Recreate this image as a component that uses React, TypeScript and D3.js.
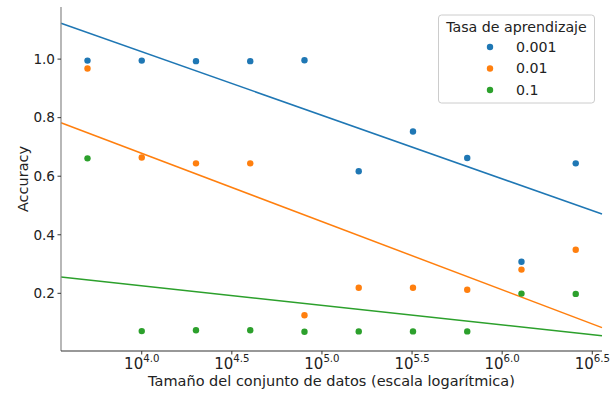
import React from 'react';
import { scaleLog, scaleLinear, scaleOrdinal, line } from 'd3';

// dataset sizes (5000 * 2^i)
const sizes = [5000, 10000, 20000, 40000, 80000, 160000, 320000, 640000, 1280000, 2560000];
const rates = ['0.001', '0.01', '0.1'];

const acc001 = [0.995, 0.995, 0.993, 0.993, 0.996, 0.617, 0.753, 0.662, 0.308, 0.644];
const acc01 = [0.968, 0.664, 0.644, 0.644, 0.125, 0.219, 0.219, 0.212, 0.281, 0.349];
const acc1 = [0.661, 0.071, 0.074, 0.074, 0.069, 0.070, 0.070, 0.070, 0.199, 0.198];

// fitted trend values at 10^4 and 10^6
const fitAt4 = [1.025, 0.678, 0.226];
const fitAt6 = [0.591, 0.212, 0.092];

const xTickExps = ['4.0', '4.5', '5.0', '5.5', '6.0', '6.5'];
const yTicks = [0.2, 0.4, 0.6, 0.8, 1.0];

const series = [acc001, acc01, acc1];
const colors = ['#1f77b4', '#ff7f0e', '#2ca02c'];

const W = 615;
const H = 394;
const left = 61, right = 602, top = 7, bottom = 351;

const App = () => {
    const x = scaleLog().domain([Math.pow(10, 3.552), Math.pow(10, 6.554)]).range([left, right]);
    const y = scaleLinear().domain([0.003, 1.178]).range([bottom, top]);
    const color = scaleOrdinal<string, string>().domain(rates).range(colors);
    const font = 'DejaVu Sans, sans-serif';

    const [lx0, lx1] = x.domain().map(v => Math.log10(v));
    const trend = (i: number) => {
        const slope = (fitAt6[i] - fitAt4[i]) / 2;
        const f = (lx: number) => fitAt4[i] + slope * (lx - 4);
        return line<number>()
            .x(lx => x(Math.pow(10, lx)))
            .y(lx => y(f(lx)))([lx0, lx1]);
    };

    return (
        <svg width={W} height={H} style={{ position: 'absolute', left: 0, top: 0 }} fontFamily={font}>
            <rect width={W} height={H} fill="#fff" />

            {/* fitted lines */}
            {rates.map((r, i) => (
                <path key={r} d={trend(i) || ''} fill="none" stroke={color(r)} strokeWidth={1.5} />
            ))}

            {/* points */}
            {series.map((vals, i) => vals.map((v, j) => (
                <circle key={`${i}-${j}`} cx={x(sizes[j])} cy={y(v)} r={3.2} fill={color(rates[i])} />
            )))}

            {/* axes */}
            <line x1={left} x2={left} y1={top} y2={bottom} stroke="#888" strokeWidth={1.2} />
            <line x1={left} x2={right} y1={bottom} y2={bottom} stroke="#333" strokeWidth={1.2} />

            {yTicks.map(t => (
                <g key={t} transform={`translate(0,${y(t)})`}>
                    <line x1={left - 3.5} x2={left} stroke="#333" />
                    <text x={left - 6} dy="0.35em" textAnchor="end" fontSize={13.6} fill="#222">{t.toFixed(1)}</text>
                </g>
            ))}

            {xTickExps.map(e => {
                const px = x(Math.pow(10, +e));
                return (
                    <g key={e} transform={`translate(${px},0)`}>
                        <line y1={bottom} y2={bottom + 3.5} stroke="#333" />
                        <text y={bottom + 17.5} textAnchor="middle" fontSize={15} fill="#222">
                            <tspan>10</tspan>
                            <tspan dy={-7} fontSize={10.2}>{e}</tspan>
                        </text>
                    </g>
                );
            })}

            <text x={(left + right) / 2} y={385.5} textAnchor="middle" fontSize={14.5} fill="#222">
                Tamaño del conjunto de datos (escala logarítmica)
            </text>
            <text transform={`translate(23,${(top + bottom) / 2}) rotate(-90)`} dy="0.35em" textAnchor="middle" fontSize={14.5} fill="#222">
                Accuracy
            </text>

            {/* legend */}
            <g>
                <rect x={438.5} y={15} width={156} height={88} rx={3} fill="#fff" fillOpacity={0.8} stroke="#ccc" />
                <text x={516.5} y={31.5} textAnchor="middle" fontSize={14.2} fill="#222">Tasa de aprendizaje</text>
                {rates.map((r, i) => (
                    <g key={r} transform={`translate(0,${47 + i * 21.5})`}>
                        <circle cx={490} cy={0} r={3.2} fill={color(r)} />
                        <text x={516} dy="0.35em" fontSize={14.2} fill="#222">{r}</text>
                    </g>
                ))}
            </g>
        </svg>
    );
};

export default App;
